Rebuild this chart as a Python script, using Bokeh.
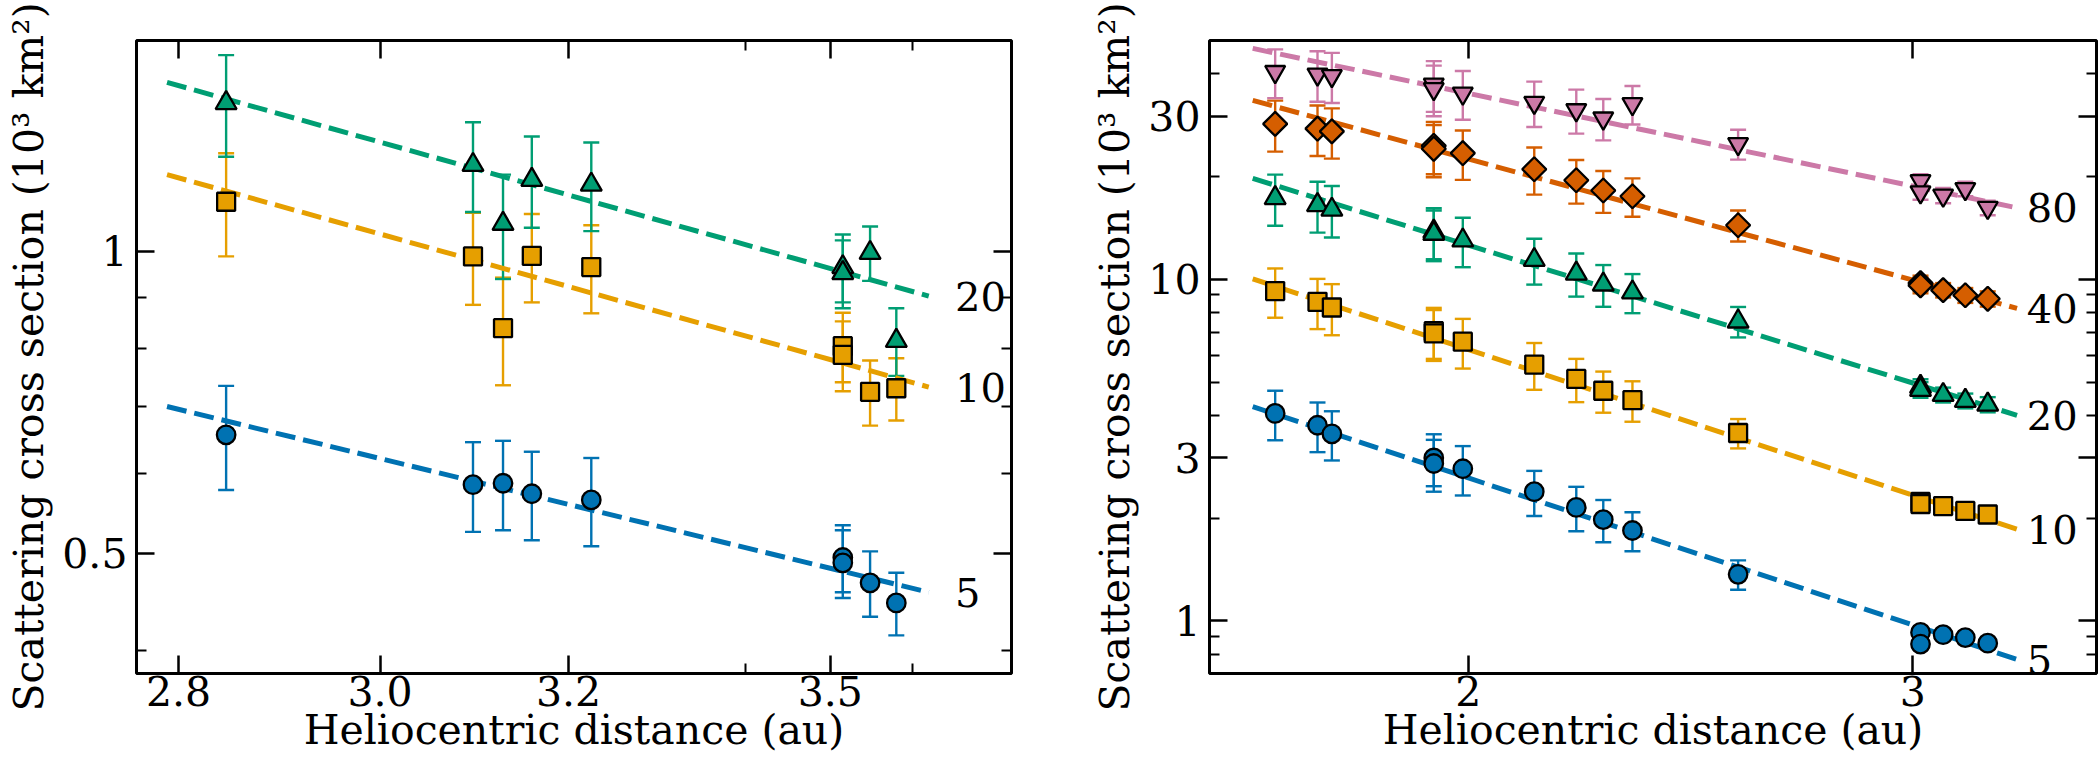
import math
from bokeh.plotting import figure
from bokeh.layouts import row
from bokeh.models import (ColumnDataSource, Whisker, TeeHead, FixedTicker, LogAxis,
                          CustomJSTickFormatter, Range1d)
from bokeh.core.properties import value
from bokeh.embed import file_html
from bokeh.resources import INLINE

FONT = "DejaVu Serif"

# ---------------- data: left panel ----------------
left_r = [2.846, 3.097, 3.129, 3.160, 3.225, 3.515, 3.515, 3.548, 3.580]
left_20 = [1.405, 1.219, 1.065, 1.178, 1.165, 0.964, 0.951, 0.996, 0.814]
left_20_err = [0.163, 0.125, 0.127, 0.123, 0.118, 0.075, 0.074, 0.062, 0.063]
left_10 = [1.120, 0.988, 0.838, 0.989, 0.964, 0.804, 0.788, 0.724, 0.730]
left_10_err = [0.132, 0.104, 0.103, 0.100, 0.097, 0.064, 0.063, 0.054, 0.052]
left_5 = [0.656, 0.585, 0.587, 0.573, 0.565, 0.495, 0.489, 0.467, 0.446]
left_5_err = [0.078, 0.060, 0.060, 0.058, 0.057, 0.038, 0.038, 0.035, 0.032]
left_fit_r = [2.789, 3.620]
left_fit_20 = [1.473, 0.902]
left_fit_10 = [1.192, 0.732]
left_fit_5 = [0.700, 0.457]
left_x_ticks = [2.8, 3.0, 3.2, 3.5]
left_x_minor = [3.4, 3.6]
left_y_ticks = [0.5, 1.0]
left_y_minor = [0.4, 0.6, 0.7, 0.8, 0.9]

# ---------------- data: right panel ----------------
right_r = [1.677, 1.743, 1.766, 1.938, 1.938, 1.990, 2.124, 2.207, 2.262, 2.323,
           2.558, 3.021, 3.021, 3.084, 3.147, 3.212]
right_80 = [40.5, 39.8, 39.4, 37.2, 36.1, 35.0, 32.9, 31.3, 29.6, 32.6,
            24.9, 19.4, 18.0, 17.6, 18.4, 16.2]
right_80_err = [6.6, 6.7, 6.6, 6.3, 6.1, 5.7, 5.0, 4.6, 4.1, 4.2,
                2.5, 0.9, 0.9, 0.9, 0.9, 0.8]
right_40 = [28.5, 27.6, 27.1, 24.6, 24.1, 23.4, 21.0, 19.5, 18.2, 17.5,
            14.4, 9.75, 9.6, 9.30, 8.98, 8.77]
right_40_err = [4.85, 4.65, 4.55, 4.3, 4.2, 3.85, 3.3, 2.85, 2.55, 2.25,
                1.5, 0.5, 0.5, 0.45, 0.45, 0.45]
right_20 = [17.3, 16.5, 16.0, 13.8, 13.6, 13.0, 11.4, 10.4, 9.66, 9.16,
            7.53, 4.85, 4.75, 4.59, 4.41, 4.30]
right_20_err = [2.95, 2.8, 2.75, 2.35, 2.3, 2.15, 1.75, 1.5, 1.35, 1.2,
                0.77, 0.25, 0.25, 0.23, 0.22, 0.22]
right_10 = [9.24, 8.59, 8.27, 7.05, 6.95, 6.57, 5.63, 5.11, 4.72, 4.43,
            3.55, 2.23, 2.20, 2.17, 2.10, 2.05]
right_10_err = [1.52, 1.44, 1.41, 1.2, 1.18, 1.09, 0.88, 0.74, 0.65, 0.6,
                0.35, 0.12, 0.12, 0.11, 0.11, 0.10]
right_5 = [4.05, 3.74, 3.53, 3.00, 2.89, 2.79, 2.39, 2.15, 1.98, 1.84,
           1.37, 0.926, 0.856, 0.912, 0.894, 0.861]
right_5_err = [0.67, 0.62, 0.58, 0.52, 0.50, 0.46, 0.36, 0.32, 0.28, 0.24,
               0.135, 0.03, 0.03, 0.03, 0.03, 0.03]
right_fit_r = [1.643, 3.299]
right_fit_80 = [47.4, 16.19]
right_fit_40 = [33.4, 8.22]
right_fit_20 = [19.75, 4.00]
right_fit_10 = [10.03, 1.855]
right_fit_5 = [4.24, 0.772]
right_x_ticks = [2.0, 3.0]
right_x_minor = []
right_y_ticks = [1.0, 3.0, 10.0, 30.0]
right_y_minor = [0.8, 0.9, 2, 4, 5, 6, 7, 8, 9, 20, 40]

aperture_labels_left = ["20", "10", "5"]
aperture_labels_right = ["80", "40", "20", "10", "5"]

BLUE, ORANGE, GREEN, RED, PINK = "#0072B2", "#E69F00", "#009E73", "#D55E00", "#CC79A7"

XLABEL = "Heliocentric distance (au)"
YLABEL = "Scattering cross section (10\u00b3 km\u00b2)"

FIG_H = 771


def style_ticks(ax):
    ax.axis_line_color = None
    ax.major_tick_in = 18
    ax.major_tick_out = 0
    ax.minor_tick_in = 10
    ax.minor_tick_out = 0
    ax.major_tick_line_width = 2.5
    ax.minor_tick_line_width = 2
    ax.major_tick_line_color = "black"
    ax.minor_tick_line_color = "black"


def make_fig(width, x_range, y_range, xt, xm, yt, ym, xfmt, yfmt, mbl, mbr):
    p = figure(width=width, height=FIG_H, x_axis_type="log", y_axis_type="log",
               x_range=Range1d(*x_range), y_range=Range1d(*y_range),
               output_backend="svg", toolbar_location=None, title=None,
               min_border_left=mbl, min_border_right=mbr,
               min_border_top=40, min_border_bottom=98)
    p.grid.visible = False
    p.outline_line_color = "black"
    p.outline_line_width = 3
    p.background_fill_color = "white"
    p.border_fill_color = "white"

    xtick = FixedTicker(ticks=xt, minor_ticks=xm)
    ytick = FixedTicker(ticks=yt, minor_ticks=ym)
    xa = p.xaxis[0]
    ya = p.yaxis[0]
    xa.ticker = xtick
    ya.ticker = ytick
    xa.formatter = CustomJSTickFormatter(code=xfmt)
    ya.formatter = CustomJSTickFormatter(code=yfmt)
    for ax in (xa, ya):
        style_ticks(ax)
        ax.major_label_text_font = FONT
        ax.major_label_text_font_size = "41px"
        ax.major_label_text_color = "black"
        ax.axis_label_text_font = FONT
        ax.axis_label_text_font_size = "41px"
        ax.axis_label_text_font_style = "normal"
        ax.axis_label_text_color = "black"
    xa.axis_label = XLABEL
    ya.axis_label = YLABEL
    xa.major_label_standoff = 2
    xa.axis_label_standoff = -3
    ya.major_label_standoff = 9
    ya.axis_label_standoff = 6

    for loc, tk in (("above", xtick), ("right", ytick)):
        ax = LogAxis(ticker=tk, formatter=CustomJSTickFormatter(code="return ''"))
        style_ticks(ax)
        ax.major_label_text_font_size = "1px"
        ax.major_label_standoff = 0
        p.add_layout(ax, loc)
    return p


def add_series(p, xs, ys, errs, color, marker, size, angle=0.0):
    src = ColumnDataSource(dict(x=xs, y=ys,
                                lo=[y - e for y, e in zip(ys, errs)],
                                hi=[y + e for y, e in zip(ys, errs)]))
    w = Whisker(source=src, base="x", lower="lo", upper="hi", dimension="height",
                line_color=color, line_width=2.4,
                lower_head=TeeHead(size=16, line_color=color, line_width=2.4),
                upper_head=TeeHead(size=16, line_color=color, line_width=2.4))
    p.add_layout(w)
    p.scatter("x", "y", source=src, marker=marker, size=size, angle=angle,
              fill_color=color, line_color="black", line_width=2.3)


def add_fit(p, fx, fy, color, label):
    p.line(fx, fy, line_color=color, line_width=5, line_dash="20 8")
    p.text(x=[fx[-1] * 1.009], y=[fy[-1]], text=[label],
           text_font=value(FONT), text_font_size="40px", text_color="black",
           text_baseline="middle", text_align="left")


# ---------------- left panel ----------------
p1 = make_fig(1050, (2.760, 3.724), (0.3793, 1.6216),
              left_x_ticks, left_x_minor, left_y_ticks, left_y_minor,
              "return tick.toFixed(1)", "return String(tick)", 136, 39)
add_fit(p1, left_fit_r, left_fit_20, GREEN, aperture_labels_left[0])
add_fit(p1, left_fit_r, left_fit_10, ORANGE, aperture_labels_left[1])
add_fit(p1, left_fit_r, left_fit_5, BLUE, aperture_labels_left[2])
add_series(p1, left_r, left_5, left_5_err, BLUE, "circle", 18.5)
add_series(p1, left_r, left_10, left_10_err, ORANGE, "square", 18)
add_series(p1, left_r, left_20, left_20_err, GREEN, "triangle", 21)

# ---------------- right panel ----------------
p2 = make_fig(1050, (1.5795, 3.547), (0.702, 50.0),
              right_x_ticks, right_x_minor, right_y_ticks, right_y_minor,
              "return String(tick)", "return String(tick)", 159, 4)
add_fit(p2, right_fit_r, right_fit_80, PINK, aperture_labels_right[0])
add_fit(p2, right_fit_r, right_fit_40, RED, aperture_labels_right[1])
add_fit(p2, right_fit_r, right_fit_20, GREEN, aperture_labels_right[2])
add_fit(p2, right_fit_r, right_fit_10, ORANGE, aperture_labels_right[3])
add_fit(p2, right_fit_r, right_fit_5, BLUE, aperture_labels_right[4])
add_series(p2, right_r, right_5, right_5_err, BLUE, "circle", 18.5)
add_series(p2, right_r, right_10, right_10_err, ORANGE, "square", 18)
add_series(p2, right_r, right_20, right_20_err, GREEN, "triangle", 21)
add_series(p2, right_r, right_40, right_40_err, RED, "square", 17, angle=math.pi / 4)
add_series(p2, right_r, right_80, right_80_err, PINK, "inverted_triangle", 20)

layout = row(p1, p2)
open("out.html", "w").write(file_html(layout, INLINE))
